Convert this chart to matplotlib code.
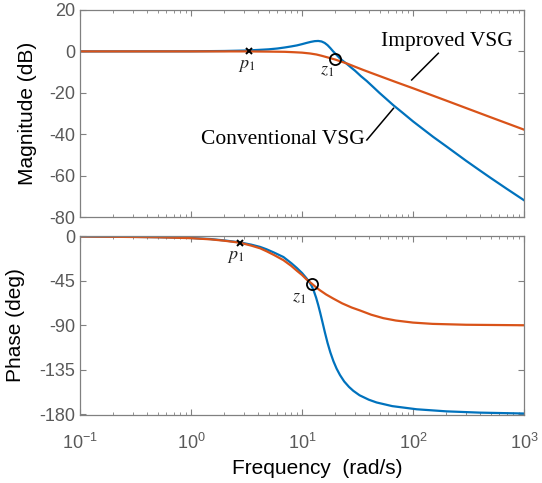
import matplotlib
matplotlib.use("Agg")
import matplotlib.pyplot as plt
from matplotlib.ticker import FixedLocator, LogLocator, NullFormatter

# ---------------- data ----------------
# Magnitude (dB)
conv_mag_f = [0.1, 1, 2, 3, 4, 5, 6, 7, 8, 9, 10, 11, 12, 13, 14, 15, 16, 17, 18, 19.1, 20.5,
              22, 23.5, 25.3, 28, 30, 34, 38.3, 44, 50, 57, 66.5, 80, 100, 125, 152, 200, 300,
              400, 500, 700, 1000]
conv_mag_db = [0, 0.05, 0.2, 0.4, 0.7, 1.0, 1.4, 1.9, 2.4, 2.9, 3.5, 4.1, 4.6, 4.95, 5.05, 4.8,
               4.1, 3.0, 1.6, 0.0, -1.7, -3.4, -4.7, -6.0, -8.0, -9.3, -12.0, -14.3, -17.3,
               -20.1, -22.8, -26.0, -29.5, -33.8, -37.8, -41.3, -45.9, -52.8, -57.5, -61.1,
               -66.4, -71.9]
imp_mag_f = [0.1, 1, 3, 5, 7, 8.5, 10, 11.8, 13.5, 15, 17, 19.8, 22.5, 25.3, 30, 35, 42, 50,
             70, 100, 200, 500, 1000]
imp_mag_db = [0, 0, 0, -0.1, -0.2, -0.4, -0.6, -1.0, -1.5, -2.1, -2.9, -3.9, -4.9, -5.8, -7.4,
              -8.8, -10.4, -11.9, -14.8, -17.8, -23.8, -31.8, -37.8]

# Phase (deg)
conv_ph_f = [0.1, 0.2, 0.3, 0.5, 0.7, 1, 1.5, 2, 2.76, 3.5, 4.2, 4.8, 5.6, 6.8, 8.0, 9.0, 10.0,
             11.0, 11.6, 12.2, 12.8, 13.4, 14.0, 14.6, 15.3, 16.1, 17.0, 18.0, 19.2, 20.5, 22,
             24, 26.5, 29, 33, 40, 47, 65, 108, 200, 400, 1000]
conv_ph_deg = [0, -0.3, -0.4, -0.7, -1.0, -1.5, -2.6, -4.0, -6.0, -8.3, -10.6, -13.0, -16.3,
               -20.8, -27.0, -32.0, -37.0, -42.5, -46.0, -50.0, -55.5, -62.0, -69.5, -77.5,
               -87.0, -97.5, -108.0, -117.5, -126.5, -134.0, -140.5, -147.0, -152.5, -156.5,
               -161.0, -165.5, -168.3, -172.0, -175.2, -177.3, -178.6, -179.5]
imp_ph_f = [0.1, 0.3, 0.5, 1, 1.5, 2, 2.76, 3.5, 4.2, 4.8, 5.6, 6.8, 8.0, 9.0, 10.0, 11.0, 12.2,
            13.3, 14.5, 16.5, 19.1, 23, 28, 33.3, 42, 54, 70, 100, 150, 300, 1000]
imp_ph_deg = [0, -0.5, -0.8, -1.7, -2.9, -4.3, -6.3, -9.3, -12.0, -15.0, -18.8, -24.0, -29.8,
              -34.8, -39.0, -43.6, -47.6, -51.3, -54.5, -58.8, -62.9, -67.8, -72.0, -75.0,
              -79.3, -82.8, -85.2, -87.3, -88.6, -89.5, -90.0]

# pole / zero markers (frequency, value)
mag_p1 = (3.35, 0.0)
mag_z1 = (19.8, -3.7)
ph_p1 = (2.76, -6.3)
ph_z1 = (12.2, -47.8)

mag_yticks = [20, 0, -20, -40, -60, -80]
ph_yticks = [0, -45, -90, -135, -180]
x_decades = [0.1, 1, 10, 100, 1000]
x_ticklabels = [r'$\mathregular{10^{-1}}$', r'$\mathregular{10^{0}}$', r'$\mathregular{10^{1}}$',
                r'$\mathregular{10^{2}}$', r'$\mathregular{10^{3}}$']

series_names = ['Conventional VSG', 'Improved VSG']
# -------------------------------------------------------------

plt.rcParams['font.family'] = ['Liberation Sans', 'DejaVu Sans']
plt.rcParams['axes.unicode_minus'] = False
plt.rcParams['mathtext.fontset'] = 'custom'
plt.rcParams['mathtext.rm'] = 'Liberation Sans'
plt.rcParams['mathtext.it'] = 'Liberation Sans:italic'

BLUE = '#0072BD'
ORANGE = '#D95319'
SPINE = '#808080'
TICKC = '#595959'

fig = plt.figure(figsize=(5.42, 4.83), dpi=100)
ax1 = fig.add_axes([80 / 542, 1 - 217 / 483, 444 / 542, 207 / 483])
ax2 = fig.add_axes([80 / 542, 1 - 415 / 483, 444 / 542, 179 / 483])

for ax in (ax1, ax2):
    ax.set_xscale('log')
    ax.set_xlim(0.1, 1000)
    ax.xaxis.set_major_locator(FixedLocator(x_decades))
    ax.xaxis.set_minor_locator(LogLocator(base=10, subs=range(2, 10), numticks=20))
    ax.xaxis.set_minor_formatter(NullFormatter())
    ax.tick_params(which='both', direction='in', top=True, right=True, color=SPINE,
                   labelcolor=TICKC, labelsize=13)
    ax.tick_params(which='major', length=4.5, width=0.8)
    ax.tick_params(which='minor', length=2.5, width=0.6)
    for s in ax.spines.values():
        s.set_color(SPINE)
        s.set_linewidth(0.9)

serif = 'Liberation Serif'

# magnitude
ax1.plot(conv_mag_f, conv_mag_db, color=BLUE, lw=1.6, label=series_names[0])
ax1.plot(imp_mag_f, imp_mag_db, color=ORANGE, lw=1.6, label=series_names[1])
ax1.set_ylim(-80, 20)
ax1.set_yticks(mag_yticks)
ax1.set_xticklabels([])
ax1.set_ylabel('Magnitude (dB)', fontsize=15, color='black')
ax1.yaxis.set_label_coords(-0.097, 0.5)

ax1.plot([mag_p1[0]], [mag_p1[1]], marker='x', color='black', ms=5, mew=1.4, ls='none', zorder=5)
ax1.plot([mag_z1[0]], [mag_z1[1]], marker='o', mfc='none', mec='black', ms=8, mew=1.3, ls='none', zorder=5)
ax1.annotate(r'$p_1$', xy=mag_p1, xytext=(-2, -10), textcoords='offset points',
             ha='center', va='center', fontsize=13, math_fontfamily='stix', color='#222222')
ax1.annotate(r'$z_1$', xy=mag_z1, xytext=(-6, -8), textcoords='offset points',
             ha='center', va='center', fontsize=13, math_fontfamily='stix', color='#222222')

ax1.text(0.827, 0.850, series_names[1], transform=ax1.transAxes, ha='center', va='center',
         fontsize=15.5, family=serif)
ax1.text(0.456, 0.372, series_names[0], transform=ax1.transAxes, ha='center', va='center',
         fontsize=15.5, family=serif)
ax1.plot([0.747, 0.807], [0.662, 0.791], transform=ax1.transAxes, color='black', lw=1.1)
ax1.plot([0.646, 0.706], [0.372, 0.525], transform=ax1.transAxes, color='black', lw=1.1)

# phase
ax2.plot(conv_ph_f, conv_ph_deg, color=BLUE, lw=1.6)
ax2.plot(imp_ph_f, imp_ph_deg, color=ORANGE, lw=1.6)
ax2.set_ylim(-181, 0.5)
ax2.set_yticks(ph_yticks)
ax2.set_xticklabels(x_ticklabels)
ax2.set_ylabel('Phase (deg)', fontsize=15, color='black')
ax2.yaxis.set_label_coords(-0.124, 0.5)
ax2.set_xlabel('Frequency  (rad/s)', fontsize=15, color='black')
ax2.xaxis.set_label_coords(0.534, -0.245)
ax2.tick_params(axis='x', pad=13)

ax2.plot([ph_p1[0]], [ph_p1[1]], marker='x', color='black', ms=5, mew=1.4, ls='none', zorder=5)
ax2.plot([ph_z1[0]], [ph_z1[1]], marker='o', mfc='none', mec='black', ms=8, mew=1.3, ls='none', zorder=5)
ax2.annotate(r'$p_1$', xy=ph_p1, xytext=(-3, -10), textcoords='offset points',
             ha='center', va='center', fontsize=13, math_fontfamily='stix', color='#222222')
ax2.annotate(r'$z_1$', xy=ph_z1, xytext=(-9, -10), textcoords='offset points',
             ha='center', va='center', fontsize=13, math_fontfamily='stix', color='#222222')

fig.savefig('out.png', dpi=100)
